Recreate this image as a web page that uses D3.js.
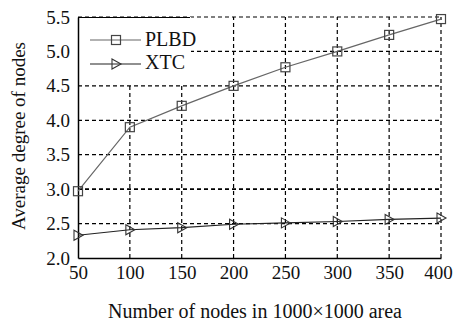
<!DOCTYPE html>
<html><head><meta charset="utf-8">
<script src="https://cdn.jsdelivr.net/npm/d3@7"></script>
<style>html,body{margin:0;padding:0;background:#fff;}svg{display:block;}</style>
</head><body><svg id="c" width="453" height="323"></svg>
<script>
const nodes = [50, 100, 150, 200, 250, 300, 350, 400];
const plbd = [2.97, 3.90, 4.21, 4.50, 4.77, 5.00, 5.24, 5.47];
const xtc = [2.33, 2.41, 2.44, 2.49, 2.51, 2.53, 2.56, 2.58];
const yTicks = [2.0, 2.5, 3.0, 3.5, 4.0, 4.5, 5.0, 5.5];
const seriesNames = ["PLBD", "XTC"];
const xTitle = "Number of nodes in 1000×1000 area";
const yTitle = "Average degree of nodes";

const svg = d3.select("#c");
const L = 78, R = 441, T = 17, B = 258;
const x = d3.scaleLinear().domain([50, 400]).range([L, R]);
const y = d3.scaleLinear().domain([2.0, 5.5]).range([B, T]);
const font = "'Liberation Serif', 'Times New Roman', serif";

// grid
const g = svg.append("g");
g.selectAll("line.v").data(nodes.slice(1)).join("line")
  .attr("x1", d => x(d)).attr("x2", d => x(d)).attr("y1", B).attr("y2", T)
  .attr("stroke", "#000").attr("stroke-width", 1.2).attr("stroke-dasharray", "4,3");
g.selectAll("line.h").data(yTicks.slice(1)).join("line")
  .attr("x1", L).attr("x2", R).attr("y1", d => y(d)).attr("y2", d => y(d))
  .attr("stroke", "#000").attr("stroke-width", d => d === 3.0 ? 1.8 : 1.2).attr("stroke-dasharray", "4,3");

// legend box (covers grid)
svg.append("rect").attr("x", L + 1).attr("y", T).attr("width", 112).attr("height", 66).attr("fill", "#fff");
svg.append("line").attr("x1", L).attr("x2", 190).attr("y1", T + 0.5).attr("y2", T + 0.5).attr("stroke", "#000").attr("stroke-width", 1.2);

// axes
const xAxis = d3.axisBottom(x).tickValues(nodes).tickSize(0).tickPadding(8).tickFormat(d3.format("d"));
const yAxis = d3.axisLeft(y).tickValues(yTicks).tickSize(0).tickPadding(8).tickFormat(d3.format(".1f"));
const gx = svg.append("g").attr("transform", `translate(0,${B})`).call(xAxis);
const gy = svg.append("g").attr("transform", `translate(${L},0)`).call(yAxis);
[gx, gy].forEach(a => {
  a.select(".domain").attr("stroke", "#000").attr("stroke-width", 1.5);
  a.selectAll("text").attr("font-family", font).attr("font-size", 19).attr("fill", "#111");
});
gx.selectAll("text").attr("dy", "0.71em").attr("dx", (d, i) => i === nodes.length - 1 ? -3 : 0);

// lines
const line = d3.line().x((d, i) => x(nodes[i])).y(d => y(d));
svg.append("path").datum(plbd).attr("d", line).attr("fill", "none").attr("stroke", "#666").attr("stroke-width", 1.2);
svg.append("path").datum(xtc).attr("d", line).attr("fill", "none").attr("stroke", "#222").attr("stroke-width", 1.2);

function square(sel, cx, cy) {
  sel.append("rect").attr("x", cx - 4.5).attr("y", cy - 4.5).attr("width", 9).attr("height", 9)
    .attr("fill", "none").attr("stroke", "#444").attr("stroke-width", 1.2);
}
function tri(sel, cx, cy) {
  sel.append("path").attr("d", `M${cx - 4},${cy - 5}L${cx + 5},${cy}L${cx - 4},${cy + 5}Z`)
    .attr("fill", "none").attr("stroke", "#333").attr("stroke-width", 1.1);
}
plbd.forEach((v, i) => square(svg, x(nodes[i]), y(v)));
xtc.forEach((v, i) => tri(svg, x(nodes[i]), y(v)));

// legend
const lg = svg.append("g");
lg.append("line").attr("x1", 90).attr("x2", 141).attr("y1", 40).attr("y2", 40).attr("stroke", "#666").attr("stroke-width", 1.2);
square(lg, 116, 40);
lg.append("line").attr("x1", 90).attr("x2", 141).attr("y1", 64).attr("y2", 64).attr("stroke", "#222").attr("stroke-width", 1.2);
tri(lg, 116, 64);
lg.selectAll("text").data(seriesNames).join("text")
  .attr("x", 145).attr("y", (d, i) => 46 + i * 23)
  .attr("font-family", font).attr("font-size", 20).attr("fill", "#111").text(d => d);

// titles
svg.append("text").attr("x", 255).attr("y", 318).attr("text-anchor", "middle")
  .attr("font-family", font).attr("font-size", 20).attr("fill", "#111").text(xTitle);
svg.append("text").attr("transform", "translate(25,136) rotate(-90)").attr("text-anchor", "middle")
  .attr("font-family", font).attr("font-size", 19).attr("fill", "#111").text(yTitle);
</script></body></html>
